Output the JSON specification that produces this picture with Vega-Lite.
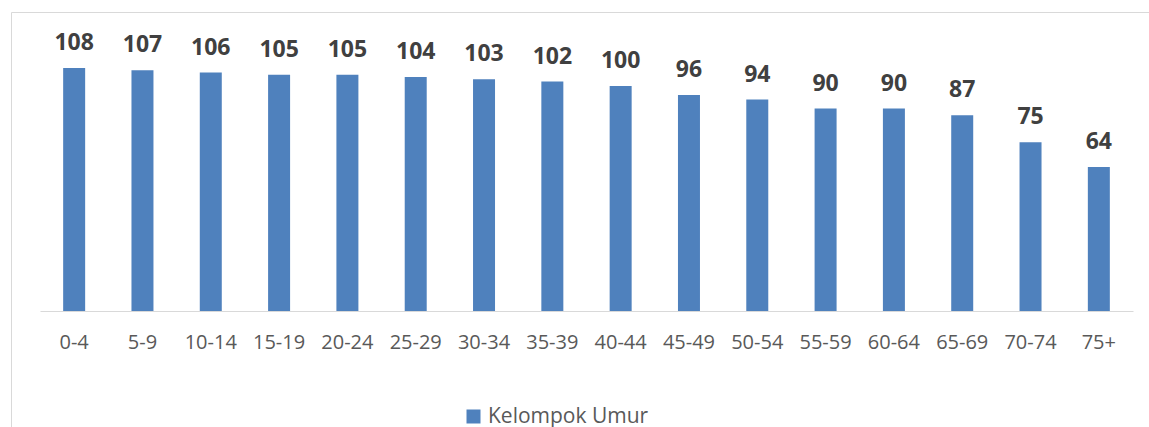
{
  "$schema": "https://vega.github.io/schema/vega-lite/v6.json",
  "autosize": {"type": "none"},
  "width": 1139,
  "height": 416,
  "padding": {"left": 11, "top": 12, "right": 0, "bottom": 0},
  "background": "white",
  "config": {
    "view": {"stroke": "#d9d9d9", "strokeWidth": 1},
    "font": "Open Sans"
  },
  "data": {
    "values": [
      {"kelompok": "0-4", "nilai": 108, "seri": "Kelompok Umur"},
      {"kelompok": "5-9", "nilai": 107, "seri": "Kelompok Umur"},
      {"kelompok": "10-14", "nilai": 106, "seri": "Kelompok Umur"},
      {"kelompok": "15-19", "nilai": 105, "seri": "Kelompok Umur"},
      {"kelompok": "20-24", "nilai": 105, "seri": "Kelompok Umur"},
      {"kelompok": "25-29", "nilai": 104, "seri": "Kelompok Umur"},
      {"kelompok": "30-34", "nilai": 103, "seri": "Kelompok Umur"},
      {"kelompok": "35-39", "nilai": 102, "seri": "Kelompok Umur"},
      {"kelompok": "40-44", "nilai": 100, "seri": "Kelompok Umur"},
      {"kelompok": "45-49", "nilai": 96, "seri": "Kelompok Umur"},
      {"kelompok": "50-54", "nilai": 94, "seri": "Kelompok Umur"},
      {"kelompok": "55-59", "nilai": 90, "seri": "Kelompok Umur"},
      {"kelompok": "60-64", "nilai": 90, "seri": "Kelompok Umur"},
      {"kelompok": "65-69", "nilai": 87, "seri": "Kelompok Umur"},
      {"kelompok": "70-74", "nilai": 75, "seri": "Kelompok Umur"},
      {"kelompok": "75+", "nilai": 64, "seri": "Kelompok Umur"}
    ]
  },
  "encoding": {
    "x": {
      "field": "kelompok",
      "type": "nominal",
      "sort": null,
      "scale": {"range": [29, 1122], "paddingInner": 0.678, "paddingOuter": 0.339},
      "axis": {
        "title": null,
        "orient": "bottom",
        "offset": -117,
        "ticks": false,
        "grid": false,
        "domainColor": "#d9d9d9",
        "domainWidth": 1,
        "labelAngle": 0,
        "labelFont": "Open Sans",
        "labelFontSize": 20,
        "labelColor": "#595959",
        "labelPadding": 21
      }
    },
    "y": {
      "field": "nilai",
      "type": "quantitative",
      "scale": {"domain": [0, 120], "range": [299, 29]},
      "axis": null
    }
  },
  "layer": [
    {
      "mark": {"type": "bar"},
      "encoding": {
        "color": {
          "field": "seri",
          "type": "nominal",
          "scale": {"range": ["#4f81bd"]},
          "legend": {
            "orient": "none",
            "legendX": 452,
            "legendY": 394,
            "title": null,
            "padding": 0,
            "symbolType": "square",
            "symbolSize": 196,
            "symbolStrokeWidth": 0,
            "labelFont": "Open Sans",
            "labelFontSize": 21,
            "labelLimit": 400,
            "labelColor": "#595959",
            "labelOffset": 4
          }
        }
      }
    },
    {
      "mark": {
        "type": "text",
        "baseline": "alphabetic",
        "dy": -18,
        "font": "Open Sans",
        "fontSize": 23,
        "fontWeight": "bold",
        "color": "#404040"
      },
      "encoding": {
        "text": {"field": "nilai", "type": "quantitative"}
      }
    }
  ]
}
